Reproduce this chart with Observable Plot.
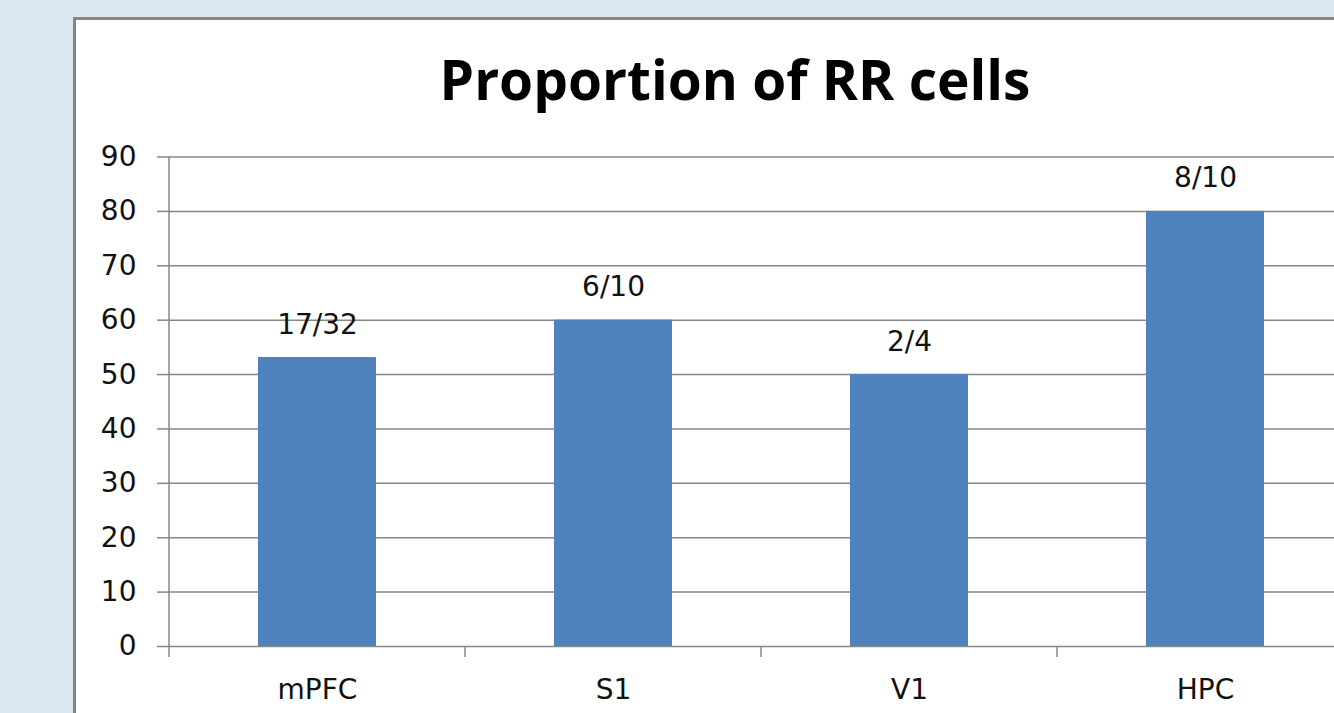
<!DOCTYPE html>
<html><head><meta charset="utf-8">
<script src="https://cdn.jsdelivr.net/npm/d3@7"></script>
<script src="https://cdn.jsdelivr.net/npm/@observablehq/plot@0.6"></script>
<style>
html,body{margin:0;padding:0;width:1334px;height:713px;overflow:hidden;background:#dce6f2;}
#panel{position:absolute;left:73px;top:17px;width:1400px;height:800px;background:#fff;border:3px solid #878787;}
#title{height:100px;width:1318px;text-align:center;font-family:"Open Sans";font-weight:700;font-size:55px;line-height:1;padding-top:31px;box-sizing:border-box;color:#000;white-space:nowrap;}
#chart svg{display:block;}
</style></head><body>
<div id="panel"><div id="title">Proportion of RR cells</div><div id="chart"></div></div>
<script>
const categories = ["mPFC", "S1", "V1", "HPC"];
const values = [53.125, 60, 50, 80];
const valueLabels = ["17/32", "6/10", "2/4", "8/10"];
const yTicks = [0, 10, 20, 30, 40, 50, 60, 70, 80, 90];

const gridColor = "#878787";
const data = categories.map((c, i) => ({region: c, value: values[i], label: valueLabels[i]}));

function boundaryTicks(index, scales) {
  const x = scales.x, y = scales.y;
  const bw = typeof x.bandwidth === "function" ? x.bandwidth() : x.bandwidth;
  const step = x(categories[1]) - x(categories[0]);
  const gap = (step - bw) / 2;
  const xs = categories.map(c => x(c) - gap);
  xs.push(x(categories[categories.length - 1]) + bw + gap);
  const y0 = y(0), yTop = y(yTicks[yTicks.length - 1]);
  const g = d3.create("svg:g").attr("stroke", gridColor).attr("stroke-width", 1.5);
  g.append("line").attr("x1", xs[0]).attr("x2", xs[0]).attr("y1", yTop).attr("y2", y0);
  g.selectAll("line.b").data(xs).join("line").attr("class", "b")
    .attr("x1", d => d).attr("x2", d => d).attr("y1", y0).attr("y2", y0 + 11);
  return g.node();
}

const plot = Plot.plot({
  width: 1279,
  height: 593,
  marginLeft: 92,
  marginRight: 0,
  marginTop: 36.5,
  marginBottom: 67,
  style: {fontFamily: "DejaVu Sans", background: "transparent", overflow: "visible", color: "#000"},
  x: {domain: categories, paddingInner: 0.6, paddingOuter: 0.3, label: null},
  y: {domain: [0, 90], label: null},
  marks: [
    Plot.gridY(yTicks, {stroke: gridColor, strokeOpacity: 1, strokeWidth: 1.5}),
    Plot.barY(data, {x: "region", y: "value", fill: "#4f81bd"}),
    Plot.text(data, {x: "region", y: "value", text: "label", dy: -24, lineAnchor: "bottom", fontSize: 28, fill: "#111"}),
    Plot.axisY(yTicks, {tickSize: 11, tickPadding: 21, fontSize: 28, stroke: gridColor, strokeWidth: 1.5, fill: "#111", label: null}),
    Plot.axisX({tickSize: 0, tickPadding: 33, fontSize: 28, fill: "#111", label: null}),
    boundaryTicks
  ]
});
document.getElementById("chart").appendChild(plot);
</script>
</body></html>
